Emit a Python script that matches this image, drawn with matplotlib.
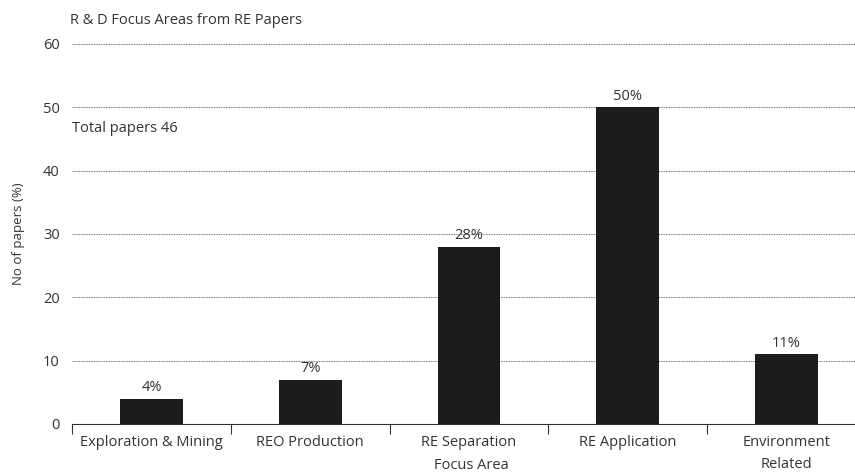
import matplotlib
matplotlib.use("Agg")
import matplotlib.pyplot as plt
import numpy as np

categories = ["Exploration & Mining", "REO Production", "RE Separation",
              "RE Application", "Environment\nRelated"]
shares = [4, 7, 28, 50, 11]
y_ticks = [0, 10, 20, 30, 40, 50, 60]

plt.rcParams["font.family"] = ["Open Sans", "DejaVu Sans"]
text_color = "#333333"

fig = plt.figure(figsize=(8.55, 4.75), dpi=100)
ax = fig.add_axes([0.0843, 0.1074, 0.9285, 0.80])

x = np.arange(len(categories))
ax.bar(x, shares, width=0.395, color="#1c1c1c", zorder=3)
for xi, v in zip(x, shares):
    ax.text(xi, v + 0.6, f"{v}%", ha="center", va="bottom", fontsize=10.5,
            color=text_color)

ax.set_xlim(-0.5, len(categories) - 0.5)
ax.set_ylim(0, 60)
ax.set_yticks(y_ticks)
ax.set_yticklabels([str(t) for t in y_ticks], fontsize=10.5, color=text_color)
ax.tick_params(axis="y", length=0, pad=9)

ax.set_xticks(np.arange(-0.5, len(categories), 1.0))
ax.set_xticklabels([])
ax.set_xticks(x, minor=True)
ax.set_xticklabels(categories, minor=True, fontsize=10.5, color=text_color,
                   linespacing=1.6)
ax.tick_params(axis="x", which="major", length=7, color="#333333", width=0.8)
ax.tick_params(axis="x", which="minor", length=0, pad=8)

ax.yaxis.grid(True, linestyle=(0, (1, 1)), color="#444444", linewidth=0.6)
ax.set_axisbelow(True)
for s in ["top", "right", "left"]:
    ax.spines[s].set_visible(False)
ax.spines["bottom"].set_color("#333333")
ax.spines["bottom"].set_linewidth(0.8)

ax.set_ylabel("No of papers (%)", fontsize=9.5, color=text_color, labelpad=13)
fig.text(0.551, 0.019, "Focus Area", ha="center", va="center", fontsize=10.5,
         color=text_color)
fig.text(0.082, 0.957, "R & D Focus Areas from RE Papers", ha="left",
         va="center", fontsize=10.5, color=text_color)
ax.text(0.0, 46.7, "Total papers 46", ha="left", va="center", fontsize=10.5,
        color=text_color, transform=ax.get_yaxis_transform())

fig.savefig("out.png", dpi=100)
